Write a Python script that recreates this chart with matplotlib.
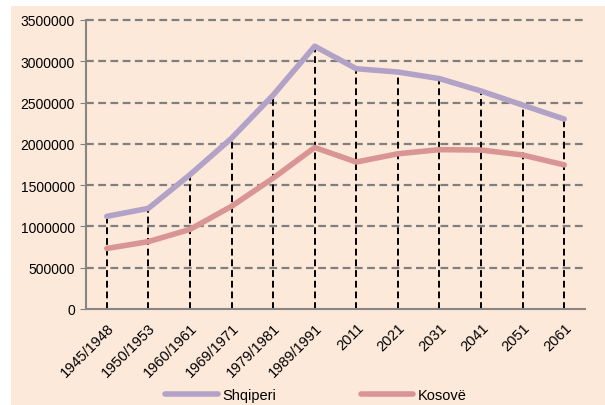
import matplotlib.pyplot as plt
import matplotlib.patches as mpatches
import numpy as np

periods = ['1945/1948', '1950/1953', '1960/1961', '1969/1971', '1979/1981', '1989/1991',
           '2011', '2021', '2031', '2041', '2051', '2061']
shqiperi = [1122044, 1218943, 1626315, 2068155, 2590600, 3182417,
            2910000, 2870000, 2790000, 2640000, 2470000, 2300000]
kosove = [733034, 815908, 963988, 1243693, 1584441, 1956196,
          1780000, 1880000, 1930000, 1925000, 1865000, 1745000]

plt.rcParams['font.family'] = ['Liberation Sans', 'DejaVu Sans']
bg = '#fde9d9'

fig = plt.figure(figsize=(6.05, 4.06), dpi=100, facecolor='white')
# beige panel behind the chart
fig.patches.append(mpatches.Rectangle((11/605, 0), 1 - 11/605, 1 - 7/406,
                                      transform=fig.transFigure, facecolor=bg,
                                      edgecolor='none', zorder=-1))
ax = fig.add_axes([86/605, 1 - 310/406, (585 - 86)/605, (310 - 21)/406])
ax.set_facecolor(bg)

x = np.arange(len(periods))
ax.set_xlim(-0.5, len(periods) - 0.5)
ax.set_ylim(0, 3500000)
ax.set_yticks(np.arange(0, 3500001, 500000))
ax.set_yticklabels([str(v) for v in range(0, 3500001, 500000)], fontsize=10)

for v in range(500000, 3500001, 500000):
    ax.axhline(v, color='#7f7f7f', lw=1.6, ls=(0, (3.5, 2)), zorder=1, clip_on=False)

top = np.maximum(shqiperi, kosove)
ax.vlines(x, 0, top, colors='black', lw=1.4, linestyles=(0, (3.5, 2)), zorder=2)

l1, = ax.plot(x, shqiperi, color='#b3a2c7', lw=4, solid_capstyle='round', zorder=3, label='Shqiperi')
l2, = ax.plot(x, kosove, color='#d99594', lw=4, solid_capstyle='round', zorder=3, label='Kosovë')

ax.set_xticks(x)
ax.set_xticklabels(periods, rotation=45, ha='right', rotation_mode='anchor', fontsize=10.5)
ax.tick_params(axis='x', length=0, pad=8)
ax.tick_params(axis='y', length=4, color='#808080', pad=4)

for s in ['top', 'right']:
    ax.spines[s].set_visible(False)
ax.spines['left'].set_color('#868686')
ax.spines['bottom'].set_color('#868686')
ax.spines['left'].set_linewidth(1.5)
ax.spines['bottom'].set_linewidth(1.5)

fig.legend(handles=[l1, l2], loc='center', bbox_to_anchor=(316/605, 1 - 396/406),
           ncol=2, frameon=False, fontsize=10.5, handlelength=3.6, columnspacing=5.8,
           handletextpad=0.3)

fig.savefig('out.png', dpi=100, facecolor='white')
